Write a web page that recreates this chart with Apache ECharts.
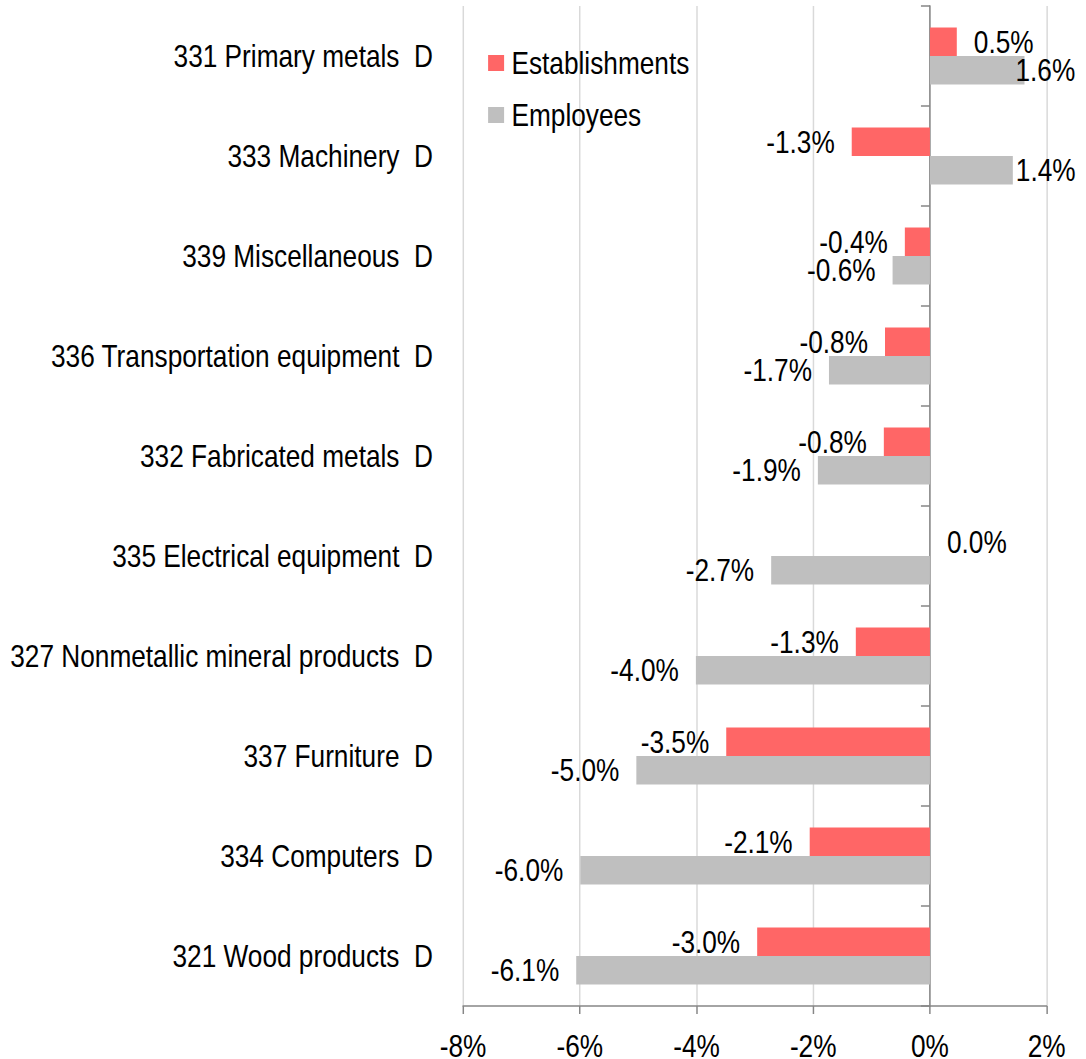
<!DOCTYPE html>
<html><head><meta charset="utf-8">
<script src="https://cdn.jsdelivr.net/npm/echarts@6/dist/echarts.min.js"></script>
<style>
html,body{margin:0;padding:0;background:#fff;overflow:hidden;width:1086px;height:1059px}
#c{width:1324px;height:1059px;transform:scaleX(0.82);transform-origin:0 0}
</style>
</head><body><div id="c"></div>
<script>
const categories = [
  '331 Primary metals  D',
  '333 Machinery  D',
  '339 Miscellaneous  D',
  '336 Transportation equipment  D',
  '332 Fabricated metals  D',
  '335 Electrical equipment  D',
  '327 Nonmetallic mineral products  D',
  '337 Furniture  D',
  '334 Computers  D',
  '321 Wood products  D'
];
const establishments = [0.46, -1.34, -0.43, -0.77, -0.79, 0.0, -1.27, -3.49, -2.06, -2.96];
const employees = [1.62, 1.42, -0.64, -1.73, -1.92, -2.72, -4.01, -5.03, -5.99, -6.06];
const xTicks = { min: -8, max: 2, step: 2 };

// The page is drawn in a horizontally widened space and condensed by CSS (Arial Narrow look).
const SX = 0.82;
const px = v => v / SX;

const FONT = "'Liberation Sans', Arial, sans-serif";
const FS = 32;
const RED = '#FF6666', GRAY = '#BFBFBF', AXIS = '#868686', GRID = '#D9D9D9';

// label distance overrides (employees, positive bars pushed inside chart)
const empDist = { 0: px(-9), 1: px(3) };

function mkData(vals, overrides) {
  return vals.map((v, i) => ({
    value: v,
    label: {
      position: v >= 0 ? 'right' : 'left',
      distance: (overrides && overrides[i] !== undefined) ? overrides[i] : px(17)
    }
  }));
}

const chart = echarts.init(document.getElementById('c'), null, { renderer: 'svg', width: 1324, height: 1059 });
chart.setOption({
  animation: false,
  textStyle: { fontFamily: FONT },
  grid: { left: px(463), right: px(39), top: 6, bottom: 53, containLabel: false, outerBoundsMode: 'none' },
  legend: {
    orient: 'vertical', left: px(484), top: 42,
    itemWidth: px(16), itemHeight: 16, itemGap: 20, icon: 'rect',
    textStyle: { fontFamily: FONT, fontSize: FS, color: '#000', padding: [0, 0, 0, 4] },
    data: ['Establishments', 'Employees']
  },
  xAxis: {
    type: 'value', min: xTicks.min, max: xTicks.max, interval: xTicks.step,
    axisLine: { show: true, lineStyle: { color: AXIS, width: 1.5 } },
    axisTick: { show: true, length: 8, lineStyle: { color: AXIS, width: 1.8 } },
    axisLabel: { formatter: '{value}%', fontFamily: FONT, fontSize: FS, lineHeight: 26, color: '#000', margin: 27 },
    splitLine: { show: true, lineStyle: { color: GRID, width: 1.8 } }
  },
  yAxis: {
    type: 'category', inverse: true, data: categories,
    axisLine: { show: true, onZero: true, lineStyle: { color: AXIS, width: 1.8 } },
    axisTick: { show: true, length: px(9), lineStyle: { color: AXIS, width: 1.5 } },
    axisLabel: { fontFamily: FONT, fontSize: FS, color: '#000', margin: px(30) },
    splitLine: { show: false }
  },
  series: [
    {
      name: 'Establishments', type: 'bar', barWidth: 28.5, barGap: '0%',
      itemStyle: { color: RED },
      label: { show: true, fontFamily: FONT, fontSize: FS, color: '#000',
        formatter: p => p.value.toFixed(1) + '%' },
      data: mkData(establishments)
    },
    {
      name: 'Employees', type: 'bar', barWidth: 28.5, barGap: '0%',
      itemStyle: { color: GRAY },
      label: { show: true, fontFamily: FONT, fontSize: FS, color: '#000',
        formatter: p => p.value.toFixed(1) + '%' },
      data: mkData(employees, empDist)
    }
  ]
});
</script></body></html>
